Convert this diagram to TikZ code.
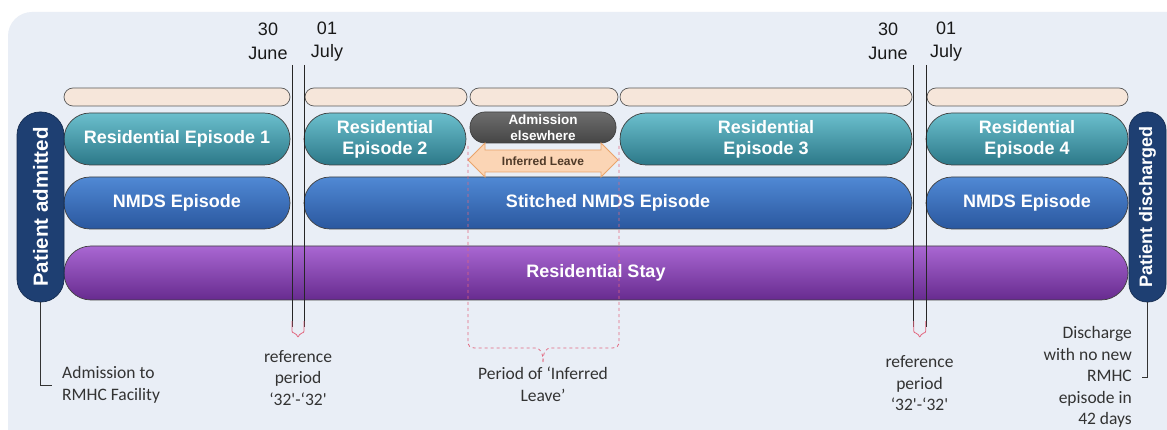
\documentclass[tikz,border=0pt]{standalone}
\usepackage{fontspec}
\setmainfont{Liberation Sans}
\newfontfamily\calibri{Carlito}

\definecolor{panel}{HTML}{E9EEF6}
\definecolor{bandfill}{HTML}{F6E6DA}
\definecolor{tealtop}{HTML}{6BBFCD}
\definecolor{tealbot}{HTML}{2C7888}
\definecolor{bluetop}{HTML}{5089D4}
\definecolor{bluebot}{HTML}{2A579F}
\definecolor{purptop}{HTML}{A967D2}
\definecolor{purpbot}{HTML}{672B8F}
\definecolor{greytop}{HTML}{6E6E6E}
\definecolor{greybot}{HTML}{454545}
\definecolor{navy}{HTML}{1E3F72}
\definecolor{leavefill}{HTML}{FBD5B5}
\definecolor{leavedraw}{HTML}{E9A46B}
\definecolor{leavetext}{HTML}{4F3A28}
\definecolor{braceline}{HTML}{E2677F}
\definecolor{notetext}{HTML}{333333}

\begin{document}
\begin{tikzpicture}[x=1pt,y=-1pt]
    \tikzstyle{bar}=[draw=black!75,line width=0.7pt,inner sep=0pt,text=white,align=center,font=\bfseries\fontsize{18}{21}\selectfont]
    \tikzstyle{band}=[bar,fill=bandfill,draw=black!65,minimum height=18pt,rounded corners=9pt]
    \tikzstyle{resep}=[bar,top color=tealtop,bottom color=tealbot,minimum height=52pt,rounded corners=26pt]
    \tikzstyle{nmds}=[bar,top color=bluetop,bottom color=bluebot,minimum height=52pt,rounded corners=26pt]
    \tikzstyle{stay}=[bar,top color=purptop,bottom color=purpbot,minimum height=54pt,rounded corners=27pt]
    \tikzstyle{elsewhere}=[bar,top color=greytop,bottom color=greybot,minimum height=31pt,rounded corners=15pt,font=\bfseries\fontsize{13.5}{16}\selectfont]
    \tikzstyle{pill}=[bar,fill=navy,draw=navy!70!black,rotate=90,minimum width=190pt]
    \tikzstyle{datelbl}=[align=center,inner sep=0pt,text=black!90,font=\fontsize{18}{23.5}\selectfont]
    \tikzstyle{note}=[align=center,inner sep=0pt,text=notetext,font=\calibri\fontsize{17.5}{21.5}\selectfont]
    \tikzstyle{refline}=[black!85,line width=0.9pt]
    \tikzstyle{smallbrace}=[braceline,line width=0.8pt,rounded corners=2pt]
    \tikzstyle{leavebrace}=[braceline,dashed,line width=0.8pt]
    \tikzstyle{connector}=[notetext,line width=1pt]

    % background panel
    \useasboundingbox (0,0) rectangle (1167,430);
    \fill[white] (0,0) rectangle (1167,430);
    \begin{scope}
      \clip (0,0) rectangle (1167,430);
      \fill[panel,rounded corners=24pt] (8,12) rectangle (1200,460);
    \end{scope}

    % blank bands above the episodes
    \foreach \cx/\w [count=\i] in {177/226pt,386/162pt,544/148pt,766/292pt,1027.5/201pt}
    \node[band,minimum width=\w] (B-\i) at (\cx,97) {};

    % residential episodes
    \node[resep,minimum width=226pt] (R-1) at (177,139) {Residential Episode 1};
    \node[resep,minimum width=162pt] (R-2) at (385,139) {Residential\\Episode 2};
    \node[elsewhere,minimum width=146pt] (AE) at (543,127.5) {Admission\\elsewhere};
    \node[resep,minimum width=292pt] (R-3) at (766,139) {Residential\\Episode 3};
    \node[resep,minimum width=202pt] (R-4) at (1027,139) {Residential\\Episode 4};

    % NMDS episodes
    \node[nmds,minimum width=226pt] (N-1) at (177,203) {NMDS Episode};
    \node[nmds,minimum width=608pt] (N-2) at (608,203) {Stitched NMDS Episode};
    \node[nmds,minimum width=202pt] (N-3) at (1027,203) {NMDS Episode};

    % whole stay
    \node[stay,minimum width=1064pt] (S) at (596,273) {Residential Stay};

    % inferred leave
    \draw[leavedraw,fill=leavefill,line width=0.8pt] (468,160) -- (485,143) -- (485,150) -- (601,150) -- (601,143)
      -- (618,160) -- (601,177) -- (601,172) -- (485,172) -- (485,177) -- cycle;
    \node[font=\bfseries\fontsize{12}{14}\selectfont,text=leavetext] (IL) at (543,161) {Inferred Leave};

    % admission and discharge
    \node[pill,minimum height=47pt,rounded corners=23pt,font=\bfseries\fontsize{20.5}{24}\selectfont] (PA) at (40.5,207) {Patient admitted};
    \node[pill,minimum height=37pt,rounded corners=18pt] (PD) at (1147.5,207) {Patient discharged};

    % reference period dates
    \node[datelbl] (D-1) at (268,41.5) {30\\June};
    \node[datelbl] (D-2) at (327,41.5) {01\\July};
    \node[datelbl] (D-3) at (888,41.5) {30\\June};
    \node[datelbl] (D-4) at (946,41.5) {01\\July};

    \foreach \x [count=\i] in {292,304,913.5,926} {
      \coordinate (T-\i) at (\x,65);
      \coordinate (U-\i) at (\x,327);
      \draw[refline] (T-\i) -- (U-\i);
    }
    \foreach \c in {298,919.75}
    \draw[smallbrace] (\c-6,321) -- (\c-6,333) -- (\c-2,333) -- (\c,338) -- (\c+2,333) -- (\c+6,333) -- (\c+6,321);

    % period of inferred leave
    \coordinate (PL-top) at (468,146);
    \coordinate (PR-top) at (619,146);
    \coordinate (PB) at (543,362);
    \draw[leavebrace] (PL-top) -- (468,341) .. controls (468,346) and (470,348) .. (475,348) -- (535,348) .. controls (540,348) and (543,352) .. (PB);
    \draw[leavebrace] (PR-top) -- (619,341) .. controls (619,346) and (617,348) .. (612,348) -- (551,348) .. controls (546,348) and (543,352) .. (PB);

    % notes
    \node[note] (RP-1) at (298,378) {reference\\period\\‘32'-‘32'};
    \node[note] (RP-2) at (919.5,383.5) {reference\\period\\‘32'-‘32'};
    \node[note] (PI) at (543,384.5) {Period of ‘Inferred\\Leave’};
    \node[note,anchor=west,inner xsep=10pt,align=left] (AT) at (52,385) {Admission to\\RMHC Facility};
    \node[note,anchor=east,inner xsep=10pt,align=right] (DT) at (1142,377) {Discharge\\with no new\\RMHC\\episode in\\42 days};
    \draw[connector] (PA.west) |- (AT.west);
    \draw[connector] (PD.west) |- (DT.east);
\end{tikzpicture}
\end{document}
